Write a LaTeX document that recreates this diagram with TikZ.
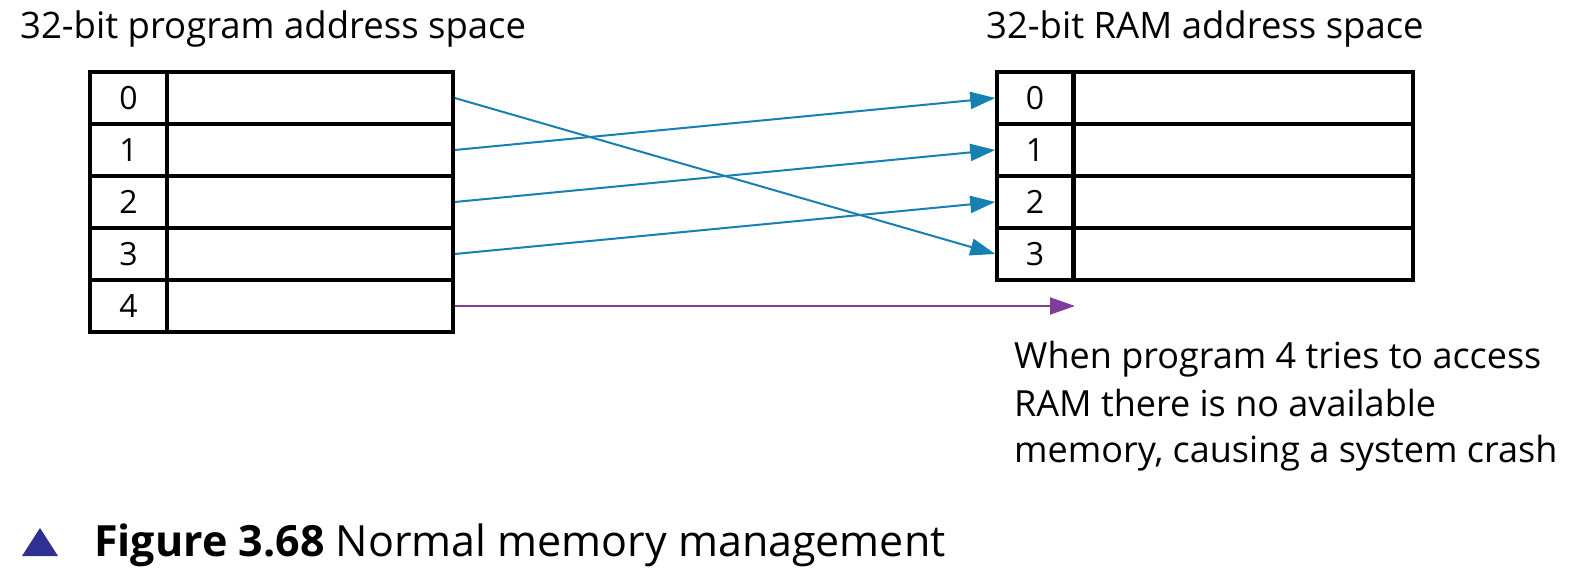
\documentclass[tikz,border=0pt]{standalone}
\usepackage{fontspec}
\setmainfont{Open Sans}
\usetikzlibrary{arrows.meta}
\definecolor{arrblue}{HTML}{1780B2}
\definecolor{arrpurple}{HTML}{7E3D97}
\definecolor{capblue}{HTML}{2E3192}
\begin{document}
\begin{tikzpicture}[x=1pt,y=-1pt,
  cell/.style={draw=black,line width=3.5pt,minimum height=52pt,inner sep=0pt,font=\fontsize{32}{36}\selectfont},
  lbl/.style={cell,minimum width=77pt},
  lcont/.style={cell,minimum width=286pt},
  rlbl/.style={cell,minimum width=76pt},
  rcont/.style={cell,minimum width=339pt},
  txt/.style={inner sep=0pt,anchor=base west,font=\fontsize{36.5}{47}\selectfont},
  notetxt/.style={txt,font=\fontsize{36}{47}\selectfont},
  maparrow/.style={draw=arrblue,line width=2pt,-{Triangle[length=25pt,width=17pt]}}
]
\useasboundingbox (0,0) rectangle (1572,580);
\foreach \i in {0,...,4}{
  \node[lbl] (L\i) at (128.5,{98+52*\i}) {\i};
  \node[lcont] (Lc\i) at (310,{98+52*\i}) {};
}
\foreach \i in {0,...,3}{
  \node[rlbl] (R\i) at (1035,{98+52*\i}) {\i};
  \node[rcont] (Rc\i) at (1243.5,{98+52*\i}) {};
}
\node[txt] (t1) at (20,39) {32-bit program address space};
\node[txt] (t2) at (986,39) {32-bit RAM address space};
\draw[maparrow] (Lc0.east) -- (R3.west);
\draw[maparrow] (Lc1.east) -- (R0.west);
\draw[maparrow] (Lc2.east) -- (R1.west);
\draw[maparrow] (Lc3.east) -- (R2.west);
\coordinate (crash) at (1075,306);
\draw[draw=arrpurple,line width=2pt,-{Triangle[length=25pt,width=17pt]}] (Lc4.east) -- (crash);
\node[notetxt] (note1) at (1014,368) {When program 4 tries to access};
\node[notetxt] (note2) at (1014,416) {RAM there is no available};
\node[notetxt] (note3) at (1014,462) {memory, causing a system crash};
\fill[capblue] (22,556) -- (58,556) -- (40,528) -- cycle;
\node[inner sep=0pt,anchor=base west,font=\fontsize{43}{48}\selectfont] (cap) at (94,556) {\textbf{Figure 3.68} Normal memory management};
\end{tikzpicture}
\end{document}
